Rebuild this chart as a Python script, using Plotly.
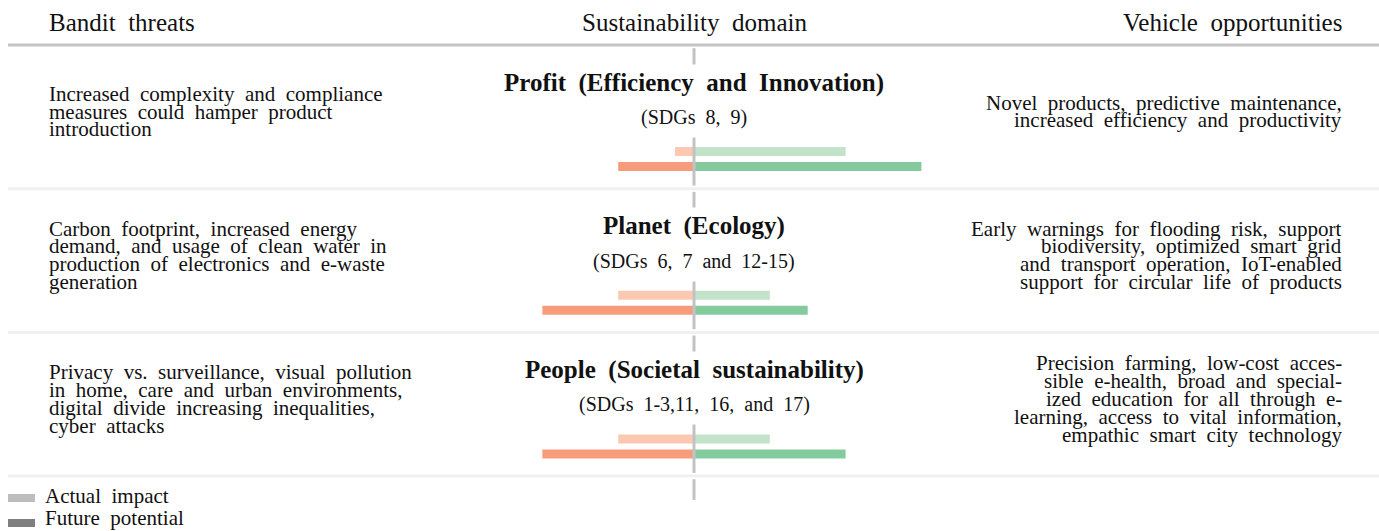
import plotly.graph_objects as go

W, H = 1379, 531

# ---- data ----
domains = ["Profit (Efficiency and Innovation)", "Planet (Ecology)", "People (Societal sustainability)"]
sdgs = ["(SDGs 8, 9)", "(SDGs 6, 7 and 12-15)", "(SDGs 1-3,11, 16, and 17)"]
threat_actual = [0.25, 1.0, 1.0]
threat_future = [1.0, 2.0, 2.0]
opp_actual = [2.0, 1.0, 1.0]
opp_future = [3.0, 1.5, 2.0]

threat_texts = [
    ["Increased complexity and compliance", "measures could hamper product", "introduction"],
    ["Carbon footprint, increased energy", "demand, and usage of clean water in",
     "production of electronics and e-waste", "generation"],
    ["Privacy vs. surveillance, visual pollution", "in home, care and urban environments,",
     "digital divide increasing inequalities,", "cyber attacks"],
]
opp_texts = [
    ["Novel products, predictive maintenance,", "increased efficiency and productivity"],
    ["Early warnings for flooding risk, support", "biodiversity, optimized smart grid",
     "and transport operation, IoT-enabled", "support for circular life of products"],
    ["Precision farming, low-cost acces-", "sible e-health, broad and special-",
     "ized education for all through e-", "learning, access to vital information,",
     "empathic smart city technology"],
]
headers = ["Bandit threats", "Sustainability domain", "Vehicle opportunities"]
legend_labels = ["Actual impact", "Future potential"]

# ---- layout constants ----
FONT = "Liberation Serif, Times New Roman, serif"
C_TA, C_TF = "#fcc8b2", "#f89b7b"
C_OA, C_OF = "#c2e3ca", "#83cb9d"
ROW_TOP = 45.0      # px of header rule
ROW_H = 143.7       # px per row
CENTER_PX = 694.0
UNIT_PX = 75.8
rows = list(range(len(domains)))


def wide(s):
    # LaTeX-like stretched inter-word spacing
    return s.replace(" ", " \u2005")


def ppx(px):
    return px / W


def ppy(py):
    return 1 - py / H


def rowy(i, off_px):
    return i + off_px / ROW_H


fig = go.Figure()
bw = 9.0 / ROW_H
for vals, col, off, sign in [
        (threat_actual, C_TA, 106.5, -1), (threat_future, C_TF, 121.6, -1),
        (opp_actual, C_OA, 106.5, 1), (opp_future, C_OF, 121.6, 1)]:
    fig.add_trace(go.Bar(
        x=[sign * v for v in vals], y=[rowy(i, off) for i in rows],
        orientation="h", width=bw, marker=dict(color=col, line=dict(width=0)),
        showlegend=False, hoverinfo="skip"))

shapes = []
shapes.append(dict(type="line", xref="paper", yref="y", x0=ppx(8), x1=1, y0=0, y1=0,
                   line=dict(color="#c4c4c4", width=3)))
for i in rows:
    shapes.append(dict(type="line", xref="paper", yref="y", x0=ppx(8), x1=1, y0=i + 1, y1=i + 1,
                       line=dict(color="#f0f0f0", width=3)))
for i in rows:
    shapes.append(dict(type="line", xref="x", yref="y", x0=0, x1=0, y0=i + 0.022, y1=i + 0.978,
                       line=dict(color="#c2c2c2", width=3)))
shapes.append(dict(type="line", xref="x", yref="y", x0=0, x1=0, y0=3.022, y1=3.166,
                   line=dict(color="#c2c2c2", width=3)))
for k, col in enumerate(["#bdbdbd", "#7f7f7f"]):
    y0 = 494 + 25 * k
    shapes.append(dict(type="rect", xref="paper", yref="paper", x0=ppx(8), x1=ppx(35),
                       y0=ppy(y0), y1=ppy(y0 + 8), fillcolor=col, line=dict(width=0)))

ann = []
hdr = [(headers[0], 47, "left"), (headers[1], CENTER_PX, "center"), (headers[2], 1344, "right")]
for txt, xpx, anc in hdr:
    ann.append(dict(text=wide(txt), x=ppx(xpx), xanchor=anc, y=ppy(22.5), xref="paper", yref="paper",
                    yanchor="middle", showarrow=False,
                    font=dict(family=FONT, size=25, color="#111")))

LS = 17.8
BLOCK_OFF = 66.5
for i in rows:
    ann.append(dict(text="<b>%s</b>" % wide(domains[i]), xref="paper", yref="y", x=ppx(CENTER_PX),
                    y=rowy(i, 37.5), xanchor="center", yanchor="middle", showarrow=False,
                    bgcolor="white", borderpad=4,
                    font=dict(family=FONT, size=25, color="#111")))
    ann.append(dict(text=wide(sdgs[i]), xref="paper", yref="y", x=ppx(CENTER_PX),
                    y=rowy(i, 72.5), xanchor="center", yanchor="middle", showarrow=False,
                    bgcolor="white", borderpad=8,
                    font=dict(family=FONT, size=20, color="#111")))
    for lines, xpx, anchor in [(threat_texts[i], 47, "left"), (opp_texts[i], 1344, "right")]:
        n = len(lines)
        for k, ln in enumerate(lines):
            ann.append(dict(text=wide(ln), xref="paper", yref="y", x=ppx(xpx),
                            y=rowy(i, BLOCK_OFF + (k - (n - 1) / 2) * LS),
                            xanchor=anchor, yanchor="middle", showarrow=False,
                            font=dict(family=FONT, size=21, color="#111")))
for k, lab in enumerate(legend_labels):
    ann.append(dict(text=wide(lab), xref="paper", yref="paper", x=ppx(43), y=ppy(496 + 22 * k),
                    xanchor="left", yanchor="middle", showarrow=False,
                    font=dict(family=FONT, size=21, color="#111")))

fig.update_layout(
    width=W, height=H, autosize=False,
    margin=dict(l=0, r=0, t=0, b=0),
    paper_bgcolor="white", plot_bgcolor="white",
    barmode="overlay",
    xaxis=dict(range=[-CENTER_PX / UNIT_PX, (W - CENTER_PX) / UNIT_PX], visible=False, fixedrange=True),
    yaxis=dict(range=[(H - ROW_TOP) / ROW_H, -ROW_TOP / ROW_H], visible=False, fixedrange=True),
    shapes=shapes, annotations=ann,
)
fig.write_html("out.html", config={"displayModeBar": False},
               post_script="document.body.style.margin='0px';document.body.style.overflow='hidden';")
